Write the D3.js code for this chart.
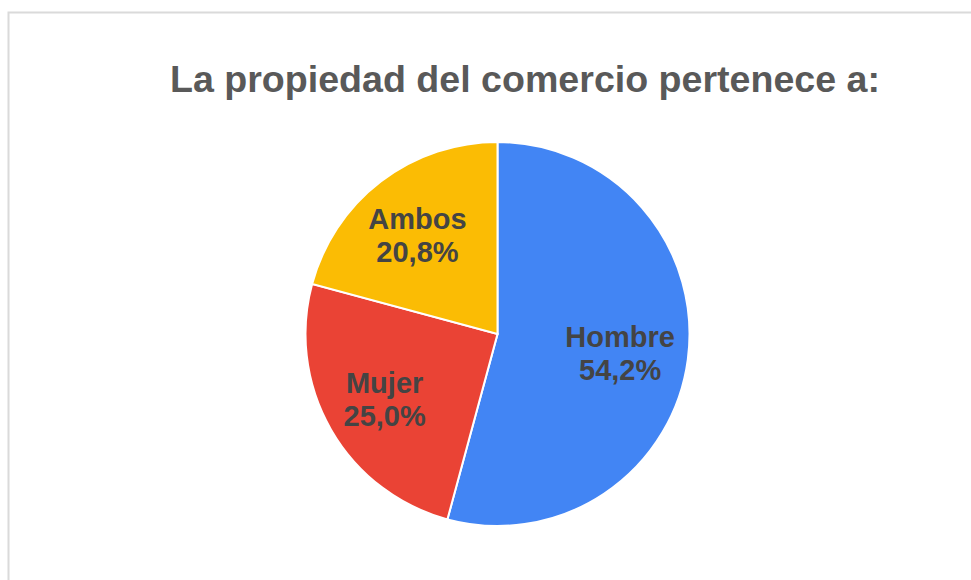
<!DOCTYPE html>
<html>
<head>
<meta charset="utf-8">
<script src="https://cdn.jsdelivr.net/npm/d3@7"></script>
<style>
    body { margin: 0; background: #fff; }
    text { font-family: "Liberation Sans", Arial, sans-serif; font-weight: bold; }
</style>
</head>
<body>
<svg id="chart" width="971" height="580"></svg>
<script>
const title = "La propiedad del comercio pertenece a:";
const categories = ["Hombre", "Mujer", "Ambos"];
const values = [54.2, 25.0, 20.8];
const colors = ["#4285f4", "#ea4335", "#fbbc04"];

const svg = d3.select("#chart");

// card outline, only top and left edges show inside the window
svg.append("rect")
    .attr("x", 8.5)
    .attr("y", 12.5)
    .attr("width", 1000)
    .attr("height", 700)
    .attr("fill", "none")
    .attr("stroke", "#dadada")
    .attr("stroke-width", 2);

svg.append("text")
    .attr("x", 525)
    .attr("y", 92)
    .attr("text-anchor", "middle")
    .attr("fill", "#595959")
    .style("font-size", "37.6px")
    .text(title);

const cx = 497.5, cy = 334, radius = 192;

const pie = d3.pie().sort(null).value(d => d);
const arcs = pie(values);

const arc = d3.arc().innerRadius(0).outerRadius(radius);
const labelArc = d3.arc().innerRadius(radius * 0.66).outerRadius(radius * 0.66);

const g = svg.append("g").attr("transform", `translate(${cx},${cy})`);

g.selectAll("path")
    .data(arcs)
    .join("path")
    .attr("d", arc)
    .attr("fill", (d, i) => colors[i])
    .attr("stroke", "#fff")
    .attr("stroke-width", 2);

const fmt = v => v.toFixed(1).replace(".", ",") + "%";

const labels = g.selectAll("text.label")
    .data(arcs)
    .join("text")
    .attr("class", "label")
    .attr("text-anchor", "middle")
    .attr("fill", "#444")
    .style("font-size", "29px")
    .attr("transform", d => {
        const [x, y] = labelArc.centroid(d);
        return `translate(${x - 3},${y + 2})`;
    });

labels.append("tspan")
    .attr("x", 0)
    .attr("y", -6)
    .text((d, i) => categories[i]);

labels.append("tspan")
    .attr("x", 0)
    .attr("y", 27)
    .text(d => fmt(d.value));
</script>
</body>
</html>
